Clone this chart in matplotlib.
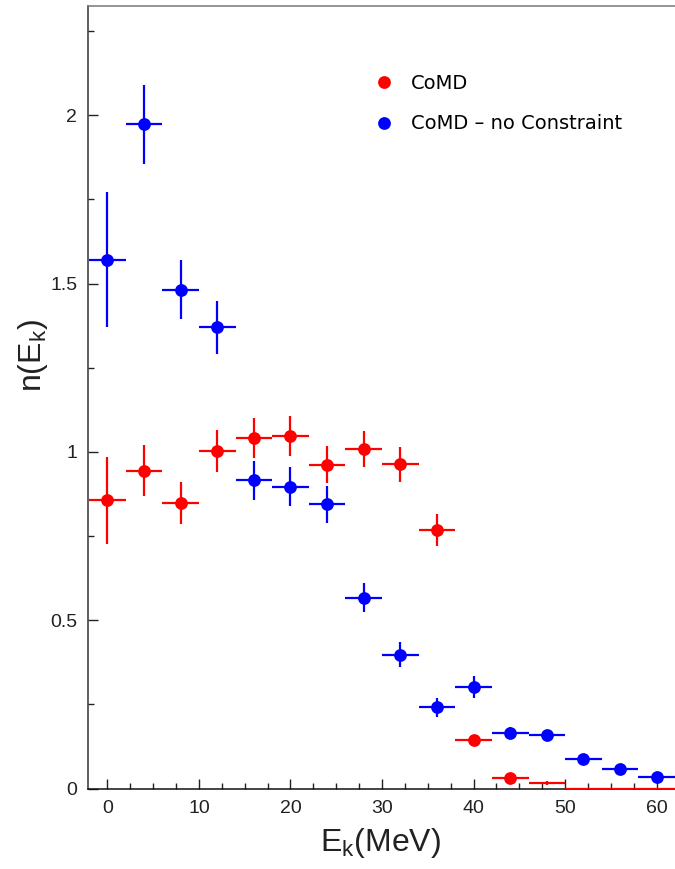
import numpy as np
import matplotlib
matplotlib.use("Agg")
import matplotlib.pyplot as plt
import matplotlib.ticker as mticker
from matplotlib.lines import Line2D

# ── Data ───────────────────────────────────────────────────────────────────
ek_centers = [0, 4, 8, 12, 16, 20, 24, 28, 32, 36, 40, 44, 48, 52, 56, 60]
bin_half = 2.0

comd_vals = [0.856, 0.944, 0.849, 1.002, 1.042, 1.047, 0.962, 1.008, 0.963,
             0.767, 0.143, 0.031, 0.016, 0.0, 0.0, 0.0]
comd_errs = [0.130, 0.075, 0.062, 0.063, 0.060, 0.059, 0.054, 0.054, 0.052,
             0.047, 0.010, 0.005, 0.005, 0.0, 0.0, 0.0]

nocon_vals = [1.571, 1.973, 1.482, 1.370, 0.916, 0.897, 0.844, 0.567, 0.398,
              0.241, 0.302, 0.166, 0.158, 0.088, 0.059, 0.034]
nocon_errs = [0.200, 0.117, 0.088, 0.078, 0.058, 0.059, 0.055, 0.044, 0.036,
              0.029, 0.032, 0.018, 0.015, 0.010, 0.009, 0.007]

labels = ["CoMD", "CoMD \u2013 no Constraint"]
colors = ["#ff0000", "#0000ff"]

plt.rcParams["font.family"] = ["Liberation Sans", "DejaVu Sans"]

W, H = 675, 869
fig = plt.figure(figsize=(W / 100, H / 100), dpi=100)
ax = fig.add_axes([88.3 / W, 1 - 788.5 / H, (W - 88.3) / W, (788.5 - 5.5) / H])

MS = 9.2


def draw_series(x, y, err, color):
    x = np.asarray(x, float)
    y = np.asarray(y, float)
    err = np.asarray(err, float)
    ax.errorbar(x, y, xerr=bin_half, yerr=err, fmt="none", ecolor=color,
                elinewidth=1.6, capsize=0, zorder=3)
    show = y > 0.02
    ax.plot(x[show], y[show], "o", color=color, markersize=MS,
            markeredgewidth=0, zorder=4)


draw_series(ek_centers, comd_vals, comd_errs, colors[0])
draw_series(ek_centers, nocon_vals, nocon_errs, colors[1])

ax.set_xlim(-2.08, 62.0)
ax.set_ylim(0, 2.326)

ax.xaxis.set_major_locator(mticker.MultipleLocator(10))
ax.xaxis.set_minor_locator(mticker.MultipleLocator(2.5))
ax.yaxis.set_major_locator(mticker.MultipleLocator(0.5))
ax.yaxis.set_minor_locator(mticker.MultipleLocator(0.25))
ax.yaxis.set_major_formatter(mticker.FuncFormatter(lambda v, _: f"{v:g}"))

ax.tick_params(which="both", direction="in", top=False, right=False,
               labelsize=14, colors="#222222")
ax.tick_params(which="major", length=7.5, width=1.0, pad=8)
ax.tick_params(which="minor", length=4, width=1.0)
ax.tick_params(axis="x", which="major", pad=8)

ax.spines["right"].set_visible(False)
ax.spines["left"].set_color("#333333")
ax.spines["top"].set_color("#777777")
ax.spines["bottom"].set_color("#111111")
for s in ["left", "top", "bottom"]:
    ax.spines[s].set_linewidth(1.1)

ax.set_xlabel(r"E$_{\mathregular{k}}$(MeV)", fontsize=23, color="#222222")
ax.xaxis.set_label_coords((380 - 88.3) / (W - 88.3), (788.5 - 826) / 783)
ax.set_ylabel(r"n(E$_{\mathregular{k}}$)", fontsize=23, color="#222222", va="center")
ax.yaxis.set_label_coords((33 - 88.3) / (W - 88.3), (788.5 - 356) / 783)

handles = [Line2D([], [], marker="o", linestyle="none", color=c,
                  markersize=MS, markeredgewidth=0) for c in colors]
fig.legend(handles, labels, loc="upper left",
           bbox_to_anchor=(375 / W, 1 - 74 / H), frameon=False,
           prop={"family": "DejaVu Sans", "size": 14},
           handlelength=0.95, handletextpad=0.9,
           labelspacing=1.1, borderpad=0, borderaxespad=0)

fig.savefig("out.png", dpi=100)
